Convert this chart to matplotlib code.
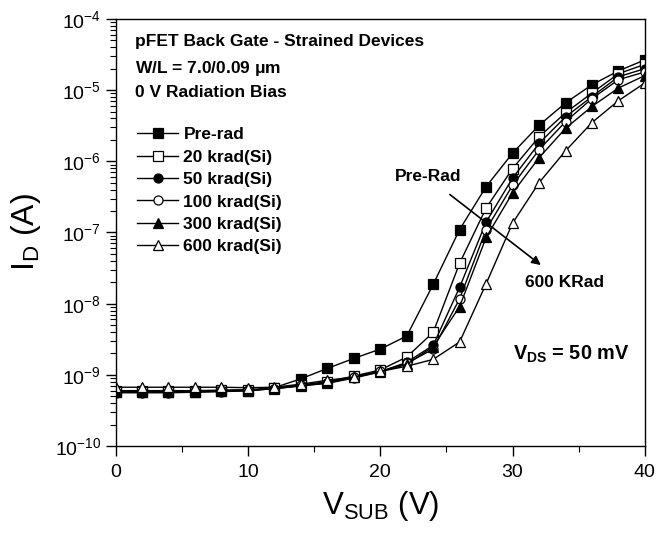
import numpy as np
import matplotlib.pyplot as plt
from matplotlib.ticker import LogLocator, MultipleLocator, NullFormatter

plt.rcParams['font.family'] = ['Liberation Sans', 'DejaVu Sans']
plt.rcParams['mathtext.fontset'] = 'custom'
plt.rcParams['mathtext.rm'] = 'Liberation Sans'
plt.rcParams['mathtext.bf'] = 'Liberation Sans:bold'

# ── data ─────────────────────────────────────────────────────────────────────
v_sub = [0, 2, 4, 6, 8, 10, 12, 14, 16, 18, 20, 22, 24, 26, 28, 30, 32, 34, 36, 38, 40]

pre_rad = [5.7e-10, 5.7e-10, 5.7e-10, 5.8e-10, 5.9e-10, 6.0e-10, 6.6e-10, 8.8e-10, 1.23e-9,
           1.7e-9, 2.3e-9, 3.5e-9, 1.86e-8, 1.1e-7, 4.4e-7, 1.3e-6, 3.2e-6, 6.6e-6, 1.19e-5,
           1.86e-5, 2.66e-5]
k20 = [6.0e-10, 6.0e-10, 6.0e-10, 6.0e-10, 6.1e-10, 6.2e-10, 6.5e-10, 7.2e-10, 8.0e-10,
       9.6e-10, 1.17e-9, 1.78e-9, 3.95e-9, 3.7e-8, 2.2e-7, 7.9e-7, 2.2e-6, 4.8e-6, 9.1e-6,
       1.7e-5, 2.3e-5]
k50 = [5.6e-10, 5.6e-10, 5.6e-10, 5.7e-10, 5.8e-10, 6.0e-10, 6.4e-10, 7.0e-10, 7.6e-10,
       9.0e-10, 1.1e-9, 1.5e-9, 2.6e-9, 1.7e-8, 1.4e-7, 5.8e-7, 1.78e-6, 4.2e-6, 8.1e-6,
       1.54e-5, 2.0e-5]
k100 = [5.8e-10, 5.8e-10, 5.8e-10, 5.9e-10, 6.0e-10, 6.1e-10, 6.4e-10, 7.1e-10, 7.8e-10,
        9.3e-10, 1.12e-9, 1.45e-9, 2.3e-9, 1.17e-8, 1.1e-7, 4.6e-7, 1.45e-6, 3.6e-6, 7.6e-6,
        1.4e-5, 1.8e-5]
k300 = [5.7e-10, 5.7e-10, 5.7e-10, 5.8e-10, 5.9e-10, 6.0e-10, 6.4e-10, 7.0e-10, 7.7e-10,
        9.2e-10, 1.1e-9, 1.4e-9, 2.5e-9, 9.1e-9, 8.5e-8, 3.6e-7, 1.12e-6, 2.9e-6, 5.9e-6,
        1.07e-5, 1.6e-5]
k600 = [6.7e-10, 6.7e-10, 6.7e-10, 6.7e-10, 6.7e-10, 6.6e-10, 6.7e-10, 7.4e-10, 8.4e-10,
        9.3e-10, 1.12e-9, 1.32e-9, 1.65e-9, 2.9e-9, 1.9e-8, 1.35e-7, 5.0e-7, 1.4e-6, 3.5e-6,
        7.1e-6, 1.26e-5]

labels = ['Pre-rad', '20 krad(Si)', '50 krad(Si)', '100 krad(Si)', '300 krad(Si)', '600 krad(Si)']
series = [pre_rad, k20, k50, k100, k300, k600]
markers = ['s', 's', 'o', 'o', '^', '^']
fills = ['black', 'white', 'black', 'white', 'black', 'white']

# ── plot ─────────────────────────────────────────────────────────────────────
fig = plt.figure(figsize=(6.69, 5.40), dpi=100)
ax = fig.add_axes([0.1727, 0.174, 0.7913, 0.791])

for y, lab, m, fc in zip(series, labels, markers, fills):
    ax.plot(v_sub, y, color='black', linewidth=1.0, marker=m, markersize=6.5,
            markerfacecolor=fc, markeredgecolor='black', markeredgewidth=0.9, label=lab)

ax.set_yscale('log')
ax.set_xlim(0, 40)
ax.set_ylim(1e-10, 1e-4)

ax.xaxis.set_major_locator(MultipleLocator(10))
ax.xaxis.set_minor_locator(MultipleLocator(5))
ax.yaxis.set_major_locator(LogLocator(base=10, numticks=10))
ax.yaxis.set_minor_locator(LogLocator(base=10, subs=np.arange(2, 10), numticks=20))
ax.yaxis.set_minor_formatter(NullFormatter())
ax.tick_params(which='major', direction='out', length=7, width=1.0, labelsize=14)
ax.tick_params(which='minor', direction='out', length=4, width=0.8)
ax.tick_params(axis='x', pad=6)
for s in ax.spines.values():
    s.set_linewidth(1.0)

ax.set_xlabel(r'V$_{\mathregular{SUB}}$ (V)', fontsize=22.5, labelpad=6)
ax.set_ylabel(r'I$_{\mathregular{D}}$ (A)', fontsize=23, labelpad=8)

# header text
hdr = dict(transform=ax.transAxes, fontsize=12.5, fontweight='bold', va='center')
ax.text(0.037, 0.946, 'pFET Back Gate - Strained Devices', **hdr)
ax.text(0.037, 0.883, r'W/L = 7.0/0.09 $\mathbf{\mu}$m', **hdr)
ax.text(0.037, 0.828, '0 V Radiation Bias', **hdr)

leg = ax.legend(loc='upper left', bbox_to_anchor=(0.028, 0.763), frameon=False,
                prop={'weight': 'bold', 'size': 12.5}, handlelength=2.36,
                handletextpad=0.3, labelspacing=0.42, borderaxespad=0)

# annotations
ax.text(23.6, 6.1e-7, 'Pre-Rad', fontsize=12.5, fontweight='bold', ha='center', va='center')
ax.annotate('', xy=(32.3, 3.3e-8), xytext=(25.1, 3.6e-7),
            arrowprops=dict(arrowstyle='-|>', color='black', lw=1.2, mutation_scale=13))
ax.text(33.9, 2.0e-8, '600 KRad', fontsize=12.5, fontweight='bold', ha='center', va='center')
ax.text(34.4, 1.95e-9, r'V$_{\mathbf{DS}}$ = 50 mV', fontsize=14.3, fontweight='bold',
        ha='center', va='center')

fig.savefig('out.png', dpi=100)
